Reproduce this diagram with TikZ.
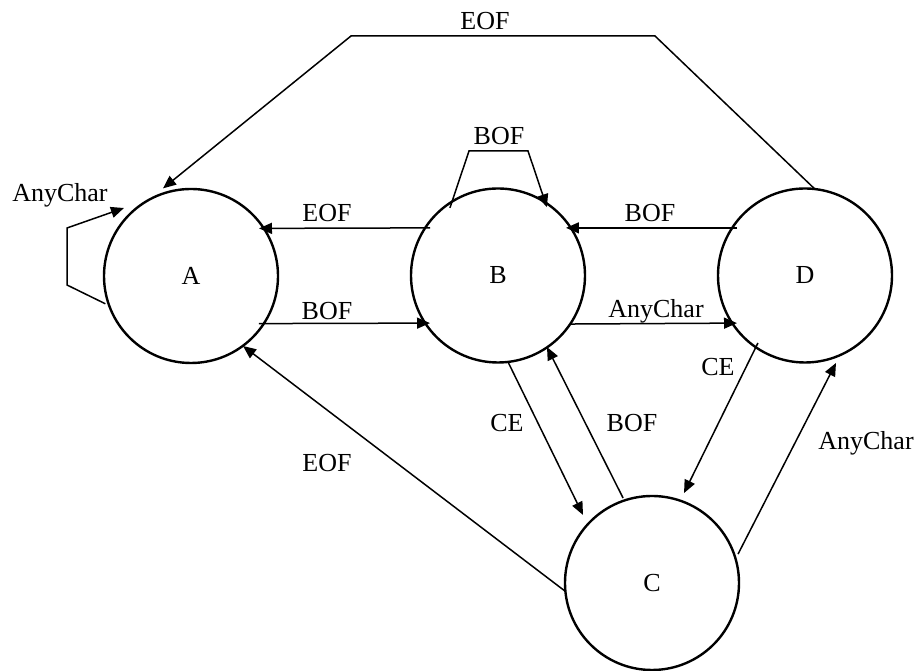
\documentclass[tikz,border=0pt]{standalone}
\usepackage{fontspec}
\setmainfont{Liberation Serif}
\usetikzlibrary{calc,arrows.meta}
\begin{document}
\begin{tikzpicture}[x=1pt,y=1pt,
  state/.style={circle,draw,line width=2.4pt,minimum size=174pt,inner sep=0pt,
    font=\fontsize{26}{30}\selectfont},
  lbl/.style={inner sep=0pt,font=\fontsize{26}{30}\selectfont},
  edge/.style={line width=1.5pt,-{Triangle[length=13pt,width=11pt]}},
  line join=miter]
\useasboundingbox (0,0) rectangle (919,671);

% states
\node[state] (A) at (191,395) {A};
\node[state] (B) at (498,395.5) {B};
\node[state] (D) at (805,395.5) {D};
\node[state] (C) at (652,88) {C};

% labels
\node[lbl] (lAny) at (60,476) {AnyChar};
\node[lbl] (lTop) at (485,650) {EOF};
\node[lbl] (lLoopB) at (499,535) {BOF};
\node[lbl] (lBA) at (327,458) {EOF};
\node[lbl] (lAB) at (327,360) {BOF};
\node[lbl] (lDB) at (650,458) {BOF};
\node[lbl] (lBD) at (656,360) {AnyChar};
\node[lbl] (lBC) at (507,248) {CE};
\node[lbl] (lCB) at (632,248) {BOF};
\node[lbl] (lDC) at (718,304) {CE};
\node[lbl] (lCD) at (866,228) {AnyChar};
\node[lbl] (lCA) at (327,208) {EOF};

% self loop on A
\draw[edge] ($(A.center)+(198:90)$) -- ($(A.center)+(-124,-9)$)
  -- ($(A.center)+(-124,48)$) -- ($(A.center)+(134.6:95.5)$);

% self loop on B
\draw[edge] ($(B.center)+(125.4:83)$) -- ($(B.center)+(-29,124.5)$)
  -- ($(B.center)+(30,124.5)$) -- ($(B.center)+(54.4:84)$);

% D to A over the top
\draw[edge] ($(D.center)+(83.5:87)$) -- ($(D.center)+(-150,239.5)$)
  -- ($(A.center)+(160,240)$) -- ($(A.center)+(107.7:92)$);

% horizontal transitions
\draw[edge] ($(B.center)+(145:83)$) -- ($(A.center)+(35:83)$);
\draw[edge] ($(A.center)+(-35:83)$) -- ($(B.center)+(215:83)$);
\draw[edge] ($(D.center)+(145:83)$) -- ($(B.center)+(35:83)$);
\draw[edge] ($(B.center)+(-34:86.8)$) -- ($(D.center)+(215:83)$);

% transitions to and from C
\draw[edge] ($(B.center)+(-83.4:87)$) -- ($(C.center)+(135.4:96.9)$);
\draw[edge] ($(C.center)+(108.8:89.8)$) -- ($(B.center)+(-55.6:86.7)$);
\draw[edge] ($(D.center)+(235.1:82.3)$) -- ($(C.center)+(70.4:95.5)$);
\draw[edge] ($(C.center)+(18.6:90.8)$) -- ($(D.center)+(-70.5:92.8)$);
\draw[edge] ($(C.center)+(185.3:87.4)$) -- ($(A.center)+(-53.4:87.2)$);
\end{tikzpicture}
\end{document}
